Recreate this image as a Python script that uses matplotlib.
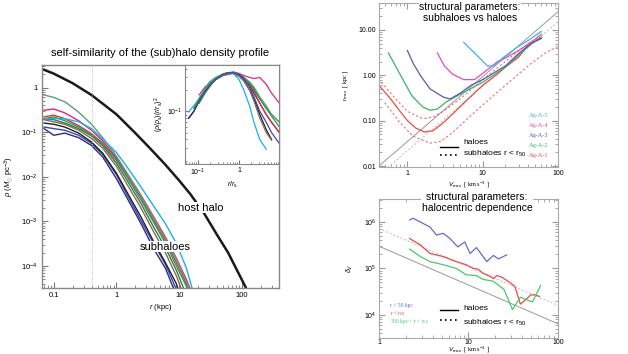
import numpy as np
import matplotlib
matplotlib.use('Agg')
import matplotlib.pyplot as plt

plt.rcParams['font.family'] = ['Liberation Sans', 'DejaVu Sans']
plt.rcParams['mathtext.fontset'] = 'custom'
plt.rcParams['mathtext.rm'] = 'Liberation Sans'
plt.rcParams['mathtext.it'] = 'Liberation Sans:italic'

# ---------------- left panel: density profiles ----------------
r_host = [0.07, 0.1, 0.2, 0.4, 1, 2, 3.34, 6, 10, 15, 25, 40, 60, 80, 115, 130]
rho_host = [2.5, 2.05, 1.25, 0.68, 0.25, 0.095, 0.045, 0.0187, 8.2e-3, 4.1e-3, 1.5e-3,
            5e-4, 2e-4, 9e-5, 3.3e-5, 2.3e-5]

r_sub = [0.07, 0.1, 0.15, 0.25, 0.4, 0.6, 1, 1.5, 2.5, 4, 6, 9, 13, 17]
sub_colors = ['#2b2b8c', '#3a4aa8', '#222222', '#8c6a52', '#2f7a5a', '#e8323a',
              '#2e9a4e', '#e8237f', '#5aa078', '#19b0ea']
rho_sub = [
    [0.12, 0.085, 0.095, 0.075, 0.05, 0.028, 9e-3, 3.2e-3, 8.5e-4, 2.3e-4, 9e-5, 2.2e-5, np.nan, np.nan],
    [0.13, 0.12, 0.11, 0.085, 0.056, 0.032, 0.011, 3.8e-3, 1e-3, 3e-4, 1.1e-4, 3e-5, np.nan, np.nan],
    [0.16, 0.15, 0.13, 0.095, 0.06, 0.034, 0.012, 4.3e-3, 1.2e-3, 3.3e-4, 1.2e-4, 4e-5, 8e-6, np.nan],
    [0.19, 0.17, 0.15, 0.11, 0.072, 0.044, 0.017, 6.5e-3, 1.9e-3, 5.5e-4, 2e-4, 6e-5, 1.5e-5, np.nan],
    [0.2, 0.19, 0.16, 0.12, 0.082, 0.05, 0.02, 8e-3, 2.4e-3, 7e-4, 2.6e-4, 8e-5, 2.2e-5, np.nan],
    [0.22, 0.24, 0.2, 0.14, 0.092, 0.057, 0.025, 0.0105, 3.3e-3, 1e-3, 3.8e-4, 1.2e-4, 4e-5, 1.5e-5],
    [0.2, 0.22, 0.18, 0.13, 0.087, 0.054, 0.023, 9.5e-3, 2.9e-3, 9e-4, 3.3e-4, 1e-4, 3.5e-5, 1.3e-5],
    [0.31, 0.33, 0.27, 0.18, 0.11, 0.064, 0.027, 0.0115, 3.7e-3, 1.2e-3, 4.5e-4, 1.5e-4, 5e-5, 2e-5],
    [0.68, 0.6, 0.48, 0.28, 0.15, 0.076, 0.029, 0.0115, 3.6e-3, 1.1e-3, 4.2e-4, 1.4e-4, 4.5e-5, 1.7e-5],
    [0.2, 0.2, 0.2, 0.17, 0.12, 0.07, 0.035, 0.016, 5.7e-3, 2.1e-3, 9e-4, 3.2e-4, 9e-5, 2.4e-5],
]

# inset: (rho/rho_s)(r/r_s)^2
x_in = [0.059, 0.079, 0.106, 0.148, 0.189, 0.265, 0.407, 0.54, 0.73, 1.0, 1.3, 1.8, 2.3, 3.2, 4.6, 6.2, 9.6]
y_in = [
    [0.08, 0.1, 0.14, 0.19, 0.23, 0.28, 0.33, 0.35, 0.35, 0.32, 0.27, 0.2, 0.15, 0.09, 0.055, 0.04, np.nan],
    [0.08, 0.1, 0.14, 0.19, 0.23, 0.28, 0.33, 0.35, 0.35, 0.33, 0.29, 0.23, 0.18, 0.13, 0.09, 0.07, 0.05],
    [np.nan, np.nan, 0.13, 0.18, 0.22, 0.28, 0.33, 0.35, 0.35, 0.33, 0.3, 0.25, 0.2, 0.15, 0.11, 0.09, 0.07],
    [np.nan, 0.11, 0.15, 0.2, 0.24, 0.28, 0.32, 0.33, 0.34, 0.31, 0.27, 0.2, 0.14, 0.08, 0.05, 0.039, np.nan],
    [np.nan, np.nan, 0.14, 0.19, 0.23, 0.28, 0.33, 0.35, 0.36, 0.34, 0.3, 0.24, 0.19, 0.13, 0.09, 0.07, 0.05],
    [np.nan, np.nan, 0.17, 0.22, 0.25, 0.28, 0.32, 0.34, 0.35, 0.34, 0.32, 0.3, 0.29, 0.3, 0.24, 0.18, 0.13],
    [np.nan, np.nan, 0.15, 0.21, 0.26, 0.3, 0.34, 0.35, 0.35, 0.33, 0.3, 0.26, 0.22, 0.16, 0.12, 0.09, 0.07],
    [0.098, 0.12, 0.15, 0.2, 0.24, 0.29, 0.33, 0.35, 0.34, 0.28, 0.2, 0.12, 0.07, 0.04, 0.029, np.nan, np.nan],
    [np.nan, 0.11, 0.15, 0.2, 0.24, 0.29, 0.33, 0.35, 0.35, 0.33, 0.3, 0.25, 0.21, 0.15, 0.11, 0.085, 0.06],
    [np.nan, np.nan, 0.14, 0.19, 0.23, 0.28, 0.33, 0.35, 0.35, 0.33, 0.29, 0.22, 0.16, 0.1, 0.07, 0.05, 0.035],
]
in_colors = ['#222222', '#2b2b8c', '#2f7a5a', '#8c6a52', '#e8323a', '#e8237f',
             '#5aa078', '#19b0ea', '#2e9a4e', '#3a4aa8']

# ---------------- top right: r_max vs V_max ----------------
aq_names = ['Aq-A-5', 'Aq-A-4', 'Aq-A-3', 'Aq-A-2', 'Aq-A-1']
aq_colors = ['#3ab4e8', '#e84cb4', '#5a5ab4', '#3cb46a', '#ee4a4a']

v_a1 = [0.42, 0.6, 0.8, 1.0, 1.3, 1.7, 2.2, 3, 4, 6, 10, 15, 20, 30, 40, 60]
r_a1 = [0.6, 0.3, 0.16, 0.1, 0.068, 0.056, 0.06, 0.09, 0.14, 0.27, 0.6, 1.0, 1.5, 2.5, 4.5, 6.5]
v_a1_up = [0.45, 0.7, 1.0, 1.6, 2.2, 3, 5, 10, 20, 40, 60]
r_a1_up = [0.7, 0.3, 0.16, 0.11, 0.12, 0.16, 0.3, 0.8, 2.0, 5.0, 7.0]
v_a1_lo = [0.5, 0.8, 1.2, 2.0, 2.8, 4, 7, 10, 20, 40, 70, 100]
r_a1_lo = [0.25, 0.09, 0.045, 0.032, 0.035, 0.055, 0.13, 0.22, 0.6, 1.6, 3.2, 4.3]
v_a2 = [0.56, 0.82, 1.15, 1.6, 2.0, 2.5, 3.3, 5, 10, 20, 30, 45, 60]
r_a2 = [3.1, 0.97, 0.35, 0.2, 0.17, 0.18, 0.26, 0.38, 0.7, 1.5, 2.8, 5, 7]
v_a3 = [1.0, 1.2, 1.5, 2.0, 3.0, 3.7, 5, 7, 10, 20, 30, 45, 60]
r_a3 = [3.5, 1.8, 0.97, 0.5, 0.33, 0.3, 0.4, 0.6, 0.8, 1.6, 3.0, 5.2, 6.5]
v_a4 = [2.5, 3.1, 4.0, 5.6, 7.8, 10.5, 15.7, 20, 30, 45, 60]
r_a4 = [3.1, 1.6, 1.05, 0.8, 0.8, 1.17, 2.0, 2.4, 3.5, 5.5, 8.0]
v_a5 = [5.6, 7.8, 11.6, 14, 19, 29, 40, 60]
r_a5 = [5.3, 3.1, 1.6, 1.6, 2.5, 4.2, 5.8, 9.2]

v_line = [0.42, 100]
r_halo_fit = [0.01, 25]
r_sub_fit = [0.0063, 15]

# ---------------- bottom right: delta_V vs V_max ----------------
env_names = ['r < 50 kpc', r'r < r$_{50}$', r'300 kpc < r < r$_{50}$']
env_colors = ['#6a6ac8', '#ee4a4a', '#4ac870']
v_b = [2.2, 2.4, 3.7, 4.4, 5.2, 6.2, 7.6, 9.1, 10.4, 12.3, 16, 19, 21.6, 26.7]
d_b = [1.1e6, 1.2e6, 7.8e5, 5.2e5, 5.7e5, 4.4e5, 2.9e5, 3.7e5, 2.1e5, 2.8e5, 1.4e5, 1.9e5, 1.6e5, 1.95e5]
v_r = [2.2, 2.9, 3.7, 5.2, 7.3, 9.4, 11.3, 12.8, 14.5, 17.5, 19, 20.6, 23.5, 28.8, 33, 38, 42, 50, 55, 62]
d_r = [4.4e5, 3.2e5, 2.1e5, 1.8e5, 1.4e5, 1.2e5, 1.0e5, 9.6e4, 7.9e4, 6.7e4, 6.0e4, 7.0e4, 6.5e4,
       5.0e4, 4.1e4, 1.7e4, 2.0e4, 2.7e4, 2.7e4, 2.5e4]
v_g = [2.2, 2.9, 3.7, 5.2, 7.3, 9.4, 12.3, 14.5, 19, 25, 31, 38, 42, 52, 64]
d_g = [2.6e5, 1.8e5, 1.4e5, 1.2e5, 1.0e5, 7.3e4, 7.0e4, 5.8e4, 5.3e4, 3.5e4, 1.3e4, 2.4e4, 2.2e4, 1.9e4, 4.3e4]
v_fit = [1, 100]
d_halo_fit = [3.0e5, 6.4e3]
d_sub_fit = [7.2e5, 1.6e4]

fig = plt.figure(figsize=(6.28, 3.54), dpi=100)

# ---- left panel
ax = fig.add_axes([0.0669, 0.1864, 0.3774, 0.63])
ax.loglog(r_host, rho_host, color='#1a1a1a', lw=1.8)
for c, rho in zip(sub_colors, rho_sub):
    ax.loglog(r_sub, rho, color=c, lw=1.0)
ax.axvline(0.4, color='#aaaaaa', lw=0.6, ls=':')
ax.set_xlim(0.065, 390)
ax.set_ylim(3.2e-5, 3.2)
ax.set_xticks([0.1, 1, 10, 100])
ax.set_xticklabels(['0.1', '1', '10', '100'])
ax.set_yticks([1e-4, 1e-3, 1e-2, 1e-1, 1])
ax.set_yticklabels([r'10$^{-4}$', r'10$^{-3}$', r'10$^{-2}$', r'10$^{-1}$', '1'])
ax.tick_params(which='both', direction='in', labelsize=5.5, color='#777777', pad=3)
ax.tick_params(which='major', length=4)
ax.tick_params(which='minor', length=2)
for s in ax.spines.values():
    s.set_color('#888888')
    s.set_linewidth(1.0)
ax.set_xlabel(r'$r$ (kpc)', fontsize=5.5, labelpad=2)
ax.set_ylabel(r'$\rho$ ($M_{\odot}$ pc$^{-3}$)', fontsize=5.5, labelpad=4)
ax.text(0.67, 0.361, 'host halo', transform=ax.transAxes, fontsize=8, ha='center', va='center',
        bbox=dict(facecolor='white', edgecolor='none', pad=0.3))
ax.text(0.519, 0.185, 'subhaloes', transform=ax.transAxes, fontsize=8, ha='center', va='center',
        bbox=dict(facecolor='white', edgecolor='none', pad=0.3))
fig.text(160.5 / 628, 1 - 53 / 354, 'self-similarity of the (sub)halo density profile',
         fontsize=8, ha='center', va='center')

# ---- inset
axi = fig.add_axes([0.2946, 0.5367, 0.1502, 0.2797])
for c, y in zip(in_colors, y_in):
    axi.loglog(x_in, y, color=c, lw=0.9)
axi.set_xlim(0.048, 9.6)
axi.set_ylim(0.018, 0.45)
axi.set_xticks([0.1, 1])
axi.set_xticklabels([r'10$^{-1}$', '1'])
axi.set_yticks([0.1])
axi.set_yticklabels([r'10$^{-1}$'])
axi.tick_params(which='both', direction='in', labelsize=5, color='#777777', pad=2)
axi.tick_params(which='major', length=3)
axi.tick_params(which='minor', length=1.5)
for s in axi.spines.values():
    s.set_color('#888888')
axi.set_xlabel(r'$r/r_{\rm s}$', fontsize=5, labelpad=1)
axi.set_ylabel(r'$(\rho/\rho_{\rm s})(r/r_{\rm s})^2$', fontsize=5, labelpad=1)

# ---- top right
ax2 = fig.add_axes([0.6035, 0.5282, 0.285, 0.4633])
ax2.loglog(v_line, r_halo_fit, color='#999999', lw=0.7)
ax2.loglog(v_line, r_sub_fit, color='#bbbbbb', lw=0.7, ls=(0, (2, 2)))
ax2.loglog(v_a1_up, r_a1_up, color=aq_colors[4], lw=0.8, ls=(0, (2, 2)), alpha=0.8)
ax2.loglog(v_a1_lo, r_a1_lo, color=aq_colors[4], lw=0.8, ls=(0, (2, 2)), alpha=0.8)
ax2.loglog(v_a1, r_a1, color=aq_colors[4], lw=0.9)
ax2.loglog(v_a2, r_a2, color=aq_colors[3], lw=0.9)
ax2.loglog(v_a3, r_a3, color=aq_colors[2], lw=0.9)
ax2.loglog(v_a4, r_a4, color=aq_colors[1], lw=0.9)
ax2.loglog(v_a5, r_a5, color=aq_colors[0], lw=0.9)
ax2.set_xlim(0.42, 100)
ax2.set_ylim(0.0095, 39)
ax2.set_xticks([1, 10, 100])
ax2.set_xticklabels(['1', '10', '100'])
ax2.set_yticks([0.01, 0.1, 1, 10])
ax2.set_yticklabels(['0.01', '0.10', '1.00', '10.00'])
ax2.tick_params(which='both', direction='in', labelsize=5, color='#999999', top=True, right=True, pad=2)
ax2.tick_params(which='major', length=4)
ax2.tick_params(which='minor', length=2)
for s in ax2.spines.values():
    s.set_color('#aaaaaa')
    s.set_linewidth(0.8)
ax2.set_xlabel(r'$V_{\rm max}$  [ km s$^{-1}$ ]', fontsize=4.5, family='Liberation Serif', labelpad=2)
ax2.set_ylabel(r'$r_{\rm max}$  [ kpc ]', fontsize=4.5, family='Liberation Serif', labelpad=6)
ax2.text(0.508, 0.942, 'structural parameters:\nsubhaloes vs haloes', transform=ax2.transAxes,
         fontsize=7.5, ha='center', va='center', linespacing=1.1,
         bbox=dict(facecolor='white', edgecolor='none', pad=0.5))
for i, (n, c) in enumerate(zip(aq_names, aq_colors)):
    ax2.text(0.944, 0.317 - 0.061 * i, n, transform=ax2.transAxes, fontsize=4.5,
             color=c, ha='right', va='center', family='Liberation Serif')
ax2.plot([0.341, 0.441], [0.122, 0.122], color='black', lw=1.0, transform=ax2.transAxes)
ax2.plot([0.341, 0.441], [0.073, 0.073], color='black', lw=1.2, ls=(0, (1, 2)), transform=ax2.transAxes)
ax2.text(0.469, 0.15, 'haloes', transform=ax2.transAxes, fontsize=6, va='center')
ax2.text(0.469, 0.083, r'subhaloes r < r$_{50}$', transform=ax2.transAxes, fontsize=6, va='center')

# ---- bottom right
ax3 = fig.add_axes([0.6035, 0.045, 0.285, 0.3937])
ax3.loglog(v_fit, d_halo_fit, color='#999999', lw=0.7)
ax3.loglog(v_fit, d_sub_fit, color='#bbbbbb', lw=0.7, ls=(0, (2, 2)))
ax3.loglog(v_b, d_b, color=env_colors[0], lw=0.9)
ax3.loglog(v_r, d_r, color=env_colors[1], lw=0.9)
ax3.loglog(v_g, d_g, color=env_colors[2], lw=0.9)
ax3.set_xlim(1, 100)
ax3.set_ylim(10 ** 3.5, 10 ** 6.5)
ax3.set_xticks([1, 10, 100])
ax3.set_xticklabels(['1', '10', '100'])
ax3.set_yticks([1e4, 1e5, 1e6])
ax3.set_yticklabels([r'10$^4$', r'10$^5$', r'10$^6$'])
ax3.tick_params(which='both', direction='in', labelsize=5, color='#999999', top=True, right=True, pad=2)
ax3.tick_params(axis='x', pad=0.5)
ax3.tick_params(which='major', length=4)
ax3.tick_params(which='minor', length=2)
for s in ax3.spines.values():
    s.set_color('#aaaaaa')
    s.set_linewidth(0.8)
ax3.text(0.5, -0.088, r'$V_{\rm max}$  [ km s$^{-1}$ ]', transform=ax3.transAxes, fontsize=4.5,
         family='Liberation Serif', ha='center', va='center')
ax3.set_ylabel(r'$\delta_V$', fontsize=5, family='Liberation Serif', labelpad=6)
ax3.text(0.547, 0.97, 'structural parameters:\nhalocentric dependence', transform=ax3.transAxes,
         fontsize=7.5, ha='center', va='center', linespacing=1.1,
         bbox=dict(facecolor='white', edgecolor='none', pad=0.5))
for i, (n, c) in enumerate(zip(env_names, env_colors)):
    ax3.text(0.06, 0.234 - 0.057 * i, n, transform=ax3.transAxes, fontsize=4,
             color=c, ha='left', va='center', family='Liberation Serif')
ax3.plot([0.341, 0.441], [0.198, 0.198], color='black', lw=1.0, transform=ax3.transAxes)
ax3.plot([0.341, 0.441], [0.127, 0.127], color='black', lw=1.2, ls=(0, (1, 2)), transform=ax3.transAxes)
ax3.text(0.469, 0.21, 'haloes', transform=ax3.transAxes, fontsize=6, va='center')
ax3.text(0.469, 0.11, r'subhaloes r < r$_{50}$', transform=ax3.transAxes, fontsize=6, va='center')

fig.savefig('out.png', dpi=100)
